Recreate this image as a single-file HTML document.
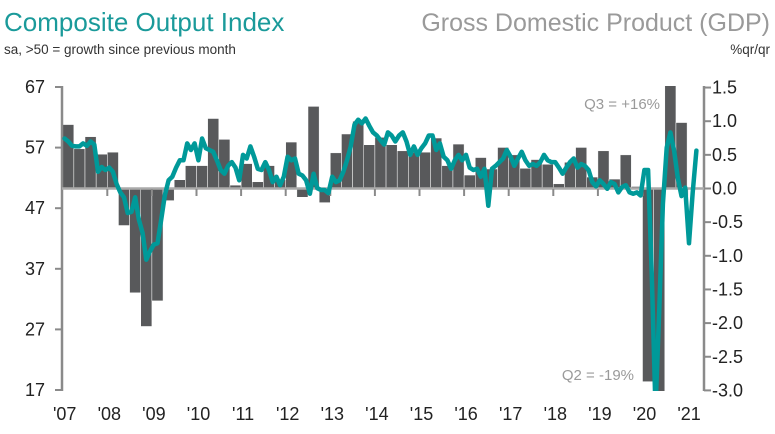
<!DOCTYPE html>
<html><head><meta charset="utf-8">
<style>
html,body{margin:0;padding:0;overflow:hidden;width:775px;height:434px}
body{background:#fff;font-family:"Liberation Sans",sans-serif;position:relative}
svg{display:block;position:absolute;left:0;top:0}
</style></head>
<body>
<svg id="chart" width="775" height="434" viewBox="0 0 775 434" xmlns="http://www.w3.org/2000/svg">
<text x="4" y="31" font-size="26" fill="#1a9a9a">Composite Output Index</text>
<text x="4" y="54" font-size="13.5" fill="#333">sa, &gt;50 = growth since previous month</text>
<text x="770" y="31" font-size="25" fill="#9a9a9a" text-anchor="end">Gross Domestic Product (GDP)</text>
<text x="770" y="54" font-size="13.5" fill="#333" text-anchor="end">%qr/qr</text>
<defs><clipPath id="plotclip"><rect x="62" y="86" width="642" height="305"/></clipPath></defs>
<g id="bars" clip-path="url(#plotclip)"></g>
<g id="axes"></g>
<path id="line" clip-path="url(#plotclip)" fill="none" stroke="#009999" stroke-width="4.5" stroke-linejoin="round" stroke-linecap="round"/>
<text x="660" y="109" font-size="15" fill="#9a9a9a" text-anchor="end">Q3 = +16%</text>
<text x="634" y="380" font-size="15" fill="#9a9a9a" text-anchor="end">Q2 = -19%</text>
</svg>
<script>
const leftTicks=[17,27,37,47,57,67];
const rightTicks=["1.5","1.0","0.5","0.0","-0.5","-1.0","-1.5","-2.0","-2.5","-3.0"];
const yearLabels=["'07","'08","'09","'10","'11","'12","'13","'14","'15","'16","'17","'18","'19","'20","'21"];
const gdp=[0.95,0.59,0.77,0.51, 0.54,-0.55,-1.55,-2.05, -1.67,-0.18,0.13,0.34, 0.34,1.04,0.73,0.05,
0.37,0.1,0.34,0.13, 0.69,-0.13,1.22,-0.21, 0.53,0.81,1.0,0.65, 0.76,0.65,0.56,0.54,
0.54,0.75,0.34,0.66, 0.2,0.46,0.29,0.61, 0.5,0.3,0.43,0.36, 0.07,0.39,0.61,0.17,
0.56,0.14,0.5,0.03, -2.87,-19,16,0.98];
const pmi=[58.5,58,57.3,57.2,57.2,57.7,57.3,58,57.5,53,53.8,53.3,
53.7,53,51,49.6,48.8,46.2,46.4,48.8,45.1,42.9,38.5,39.9,
41,41.2,45.1,49.2,51.6,52.2,53.7,54.9,54.9,57.7,56.6,57.7,
54.9,58.5,56.9,56.6,56.3,54.9,53.3,52.7,54,54.6,53.7,51.6,
55.8,55.2,57.2,55.5,53.5,53.3,54.6,53.3,51.3,52.2,50.8,52.2,
55.5,54.9,55.2,52.7,52.4,51.6,49.4,52.7,50.3,50,50,49.5,
52.2,51.3,51.6,53,54.9,57.2,60.8,61.6,61,61.8,60.6,59.5,
59,58.2,57.5,59.5,59,58,59,59.5,58,55.8,57.2,55.8,
56.9,57.7,59,59,56.6,57.7,55.5,54.9,53.5,54.9,55.8,54.9,
55.8,53.7,53.3,53.5,52.2,53.5,47.4,53.5,54,54.6,55.2,56.6,
55.5,54,55.2,56.3,54.9,54,54.3,54,54.6,55.8,54.9,54.6,
54.6,53.7,52.7,53.7,54.6,55.2,53.7,54.3,54,53.3,51.3,50.6,
51.6,51,50.2,51.3,51,49.6,50.5,50.8,49.6,49.4,49.6,49.1,
53.3,53.3,36,13.8,30,47.7,57,59.5,56.5,52,49,50.4,
41.2,49.6,56.5];
const NS='http://www.w3.org/2000/svg';
const x0=62.7, yrW=44.6;
const yL=v=>87+(67-v)*6.06;
const yR=v=>188.5-v*67.3;
const xT=t=>x0+yrW*t;
function mk(tag,attrs,parent){const e=document.createElementNS(NS,tag);for(const k in attrs)e.setAttribute(k,attrs[k]);parent.appendChild(e);return e;}
const bars=document.getElementById('bars');
gdp.forEach((v,i)=>{
 const a=yR(Math.max(v,0)), b=yR(Math.min(v,0));
 const r=mk('rect',{x:xT(i/4),y:a,width:yrW/4,height:Math.max(b-a,0.1),fill:'#58595b',stroke:'#fff','stroke-width':0.5},bars);
 
 
});
const ax=document.getElementById('axes');
const g='#8a8a8a';
let l;
l=mk('line',{x1:62,y1:86,x2:62,y2:391,stroke:g,'stroke-width':2.5},ax);


l=mk('line',{x1:704,y1:86,x2:704,y2:391,stroke:g,'stroke-width':2.5},ax);


l=mk('line',{x1:62,y1:188.5,x2:704,y2:188.5,stroke:'#aaa','stroke-width':2.5},ax);


leftTicks.forEach(v=>{
 mk('line',{x1:55,y1:yL(v),x2:62,y2:yL(v),stroke:g,'stroke-width':2},ax);
 const t=mk('text',{x:45,y:yL(v)+6,'font-size':18,'text-anchor':'end',fill:'#222'},ax);
 t.textContent=v;
 
 
});
rightTicks.forEach(s=>{
 const v=parseFloat(s);
 mk('line',{x1:704,y1:yR(v),x2:711,y2:yR(v),stroke:g,'stroke-width':2},ax);
 const t=mk('text',{x:712,y:yR(v)+6,'font-size':18,fill:'#222'},ax);
 t.textContent=s;
 
 
});
yearLabels.forEach((s,i)=>{
 if(i>0) mk('line',{x1:xT(i),y1:189,x2:xT(i),y2:196,stroke:g,'stroke-width':2},ax);
 const t=mk('text',{x:xT(i)+2,y:420,'font-size':18,'text-anchor':'middle',fill:'#222'},ax);
 t.textContent=s;
 
 
});
let d='';
pmi.forEach((v,m)=>{d+=(m?'L':'M')+xT((m+0.5)/12).toFixed(1)+','+yL(v).toFixed(1);});
document.getElementById('line').setAttribute('d',d);
</script>
</body></html>
